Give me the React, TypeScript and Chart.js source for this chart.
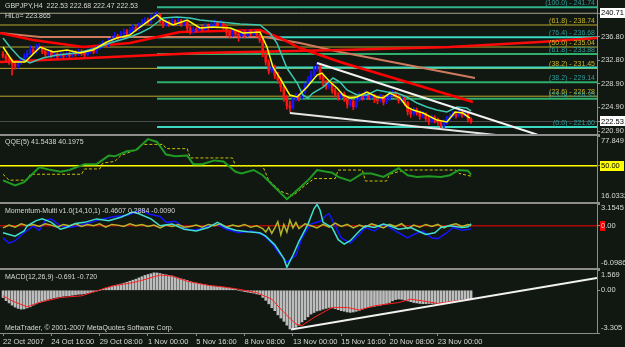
import React, { useEffect, useRef } from 'react';
import { Chart, registerables } from 'chart.js';

Chart.register(...registerables);

const FONT = '"Liberation Sans", Arial, sans-serif';
const BG = '#111811';
const AXIS = '#8c8c8c';
const TXT = '#d8d8d8';
const X_MIN = -1;
const X_MAX = 196.7;

// ---------------- data ----------------
const DATE_LABELS = ['22 Oct 2007', '24 Oct 16:00', '29 Oct 08:00', '1 Nov 00:00', '5 Nov 16:00', '8 Nov 08:00', '13 Nov 00:00', '15 Nov 16:00', '20 Nov 08:00', '23 Nov 00:00'];
const DATE_TICK_BARS = [0, 16, 32, 48, 64, 80, 96, 112, 128, 144];

const OPEN0 = 233.9;
const CLOSES = [
  233.5, 233.0, 232.8, 232.2, 231.8, 232.4, 232.9, 233.4, 234.0, 234.6,
  234.2, 234.8, 235.0, 234.3, 233.8, 234.2, 233.6, 233.9, 233.4, 233.8,
  233.5, 233.9, 233.6, 234.1, 233.8, 234.3, 234.0, 233.7, 234.2, 234.5,
  234.2, 234.8, 235.2, 235.6, 235.3, 236.0, 236.4, 236.9, 236.5, 237.2,
  237.6, 237.3, 237.8, 238.3, 238.0, 238.6, 239.1, 239.5, 239.2, 240.0,
  240.3, 240.5, 239.3, 238.7, 239.2, 238.9, 239.3, 239.0, 239.5, 238.8,
  239.2, 238.2, 237.6, 238.0, 237.9, 238.3, 238.0, 238.6, 238.3, 238.8,
  239.1, 238.6, 239.0, 238.4, 237.5, 237.0, 237.6, 237.2, 236.9, 237.4,
  237.0, 237.6, 237.2, 237.5, 237.1, 236.2, 233.8, 232.5, 231.0, 231.8,
  230.2, 229.5, 228.3, 226.5, 225.2, 224.8, 226.3, 226.8, 226.5, 227.5,
  228.6, 229.6, 230.4, 231.3, 231.8, 230.0, 229.0, 228.4, 228.8, 227.7,
  227.0, 226.6, 227.2, 226.3, 225.4, 225.9, 225.0, 226.2, 226.9, 226.5,
  227.2, 226.6, 226.9, 226.2, 226.0, 226.7, 225.8, 226.3, 227.0, 227.3,
  226.7, 226.0, 226.4, 225.7, 224.2, 223.8, 224.5, 224.0, 223.4, 223.8,
  223.0, 222.5, 223.2, 222.8, 222.4, 221.8, 222.3, 223.0, 223.4, 223.8,
  223.5, 224.0, 223.6, 223.9, 222.9, 222.53,
];
const HIGHS = [
  234.3, 233.8, 233.4, 233.0, 232.6, 232.7, 233.3, 233.9, 234.5, 235.3,
  235.0, 235.5, 235.6, 235.2, 234.6, 234.6, 234.5, 234.3, 234.1, 234.2,
  234.0, 234.3, 234.2, 234.5, 234.4, 234.7, 234.6, 234.3, 234.6, 234.9,
  234.8, 235.2, 235.7, 236.1, 235.9, 236.5, 236.9, 237.5, 237.2, 237.7,
  238.1, 238.0, 238.3, 238.8, 238.7, 239.1, 239.7, 240.0, 239.9, 240.4,
  240.7, 241.0, 240.6, 239.6, 239.7, 239.5, 239.8, 239.6, 240.0, 239.7,
  239.6, 239.4, 238.5, 238.4, 238.3, 238.7, 238.6, 239.0, 238.9, 239.3,
  239.6, 239.4, 239.5, 239.2, 238.6, 237.9, 238.0, 237.9, 237.5, 237.8,
  237.7, 238.0, 237.9, 237.9, 237.8, 237.3, 236.4, 234.3, 232.9, 232.4,
  232.0, 230.8, 229.9, 228.6, 226.9, 225.9, 226.6, 227.3, 227.1, 227.9,
  229.0, 230.1, 231.0, 231.8, 232.4, 232.0, 230.4, 229.4, 229.3, 229.1,
  228.1, 227.4, 227.6, 227.5, 226.6, 226.3, 226.2, 226.6, 227.4, 227.2,
  227.7, 227.5, 227.4, 227.1, 226.5, 227.1, 226.9, 226.8, 227.5, 227.8,
  227.6, 227.0, 226.8, 226.6, 225.9, 224.7, 224.9, 224.8, 224.3, 224.2,
  224.0, 223.3, 223.6, 223.5, 223.1, 222.7, 222.8, 223.4, 223.8, 224.2,
  224.1, 224.4, 224.3, 224.3, 224.1, 223.2,
];
const LOWS = [
  233.2, 232.6, 232.1, 230.3, 231.3, 231.5, 232.1, 232.7, 233.2, 233.8,
  233.9, 234.0, 234.5, 233.9, 233.3, 233.5, 233.2, 233.3, 233.0, 233.2,
  233.1, 233.3, 233.2, 233.4, 233.5, 233.6, 233.6, 233.3, 233.5, 234.0,
  233.9, 234.0, 234.6, 235.0, 235.0, 235.1, 235.8, 236.2, 236.1, 236.3,
  237.0, 236.9, 237.1, 237.6, 237.7, 237.8, 238.4, 238.9, 238.8, 239.0,
  239.7, 240.0, 239.0, 238.3, 238.5, 238.5, 238.7, 238.6, 238.8, 238.5,
  238.6, 237.5, 237.2, 237.3, 237.5, 237.7, 237.7, 237.8, 238.0, 238.1,
  238.6, 238.2, 238.4, 238.0, 236.9, 236.5, 236.8, 236.8, 236.0, 236.7,
  236.6, 236.8, 236.9, 237.0, 236.8, 235.8, 233.4, 232.0, 230.5, 230.7,
  229.7, 228.9, 227.6, 225.9, 224.6, 224.1, 224.6, 226.0, 226.0, 226.3,
  227.2, 228.3, 229.3, 230.1, 231.0, 229.6, 228.5, 227.9, 228.0, 227.3,
  226.6, 226.1, 226.3, 225.9, 224.8, 225.0, 224.5, 224.8, 225.9, 226.1,
  226.2, 226.2, 226.3, 225.7, 225.5, 225.8, 225.3, 225.5, 226.0, 226.8,
  226.3, 225.6, 225.7, 225.2, 223.6, 223.2, 223.5, 223.6, 222.9, 223.1,
  222.6, 222.0, 222.3, 222.3, 221.9, 221.3, 221.5, 222.1, 222.7, 223.2,
  223.1, 223.3, 223.2, 223.4, 222.4, 222.2,
];

// main-pane indicator lines: [bar index, price]
const YELLOW_MA: [number, number][] = [
  [0, 235.04], [3.3, 232.52], [7.3, 232.52], [12.3, 235.04], [16.6, 234.2], [21.2, 234.54], [25.5, 234.03],
  [29.8, 234.54], [34.4, 235.88], [37.7, 236.56], [42, 237.06], [45.4, 238.4], [47.7, 239.24], [51, 240.42],
  [53, 239.58], [56.3, 238.74], [61, 239.58], [65.2, 238.24], [69.5, 238.4], [75.2, 238.24], [79.5, 237.4],
  [85.1, 237.56], [87.4, 235.04], [89.4, 231.68], [91.7, 229.83], [95, 226.98], [97.4, 226.64], [100.7, 228.32],
  [104, 230.34], [105.6, 230.67], [108.3, 229.16], [110.6, 228.15], [112.6, 226.98], [114.9, 226.47],
  [117.2, 226.64], [120.5, 227.48], [123.8, 226.64], [125.8, 226.47], [128.1, 227.31], [131.5, 226.47],
  [133.8, 224.96], [135.8, 224.45], [139.1, 223.95], [143.7, 222.77], [147, 222.44], [149.7, 224.12],
  [152.3, 223.95], [154.6, 223.11],
];
const TEAL_MA: [number, number][] = [
  [0, 236.56], [2.3, 235.04], [5.6, 233.2], [8.9, 232.35], [13.2, 233.2], [17.9, 233.7], [24.5, 234.03],
  [31.1, 234.87], [35.4, 235.71], [41.1, 236.56], [45.4, 237.4], [48.7, 238.24], [53, 239.92], [57.6, 240.08],
  [61.9, 239.92], [65.2, 239.58], [71.9, 239.24], [78.5, 238.91], [85.1, 238.74], [88.4, 237.4], [90.7, 235.71],
  [94, 231.51], [97.4, 228.99], [99.3, 226.98], [101, 226.47], [102.6, 227.31], [106, 228.32], [109.3, 229.83],
  [111.6, 229.16], [113.9, 227.82], [117.2, 226.98], [120.5, 226.98], [123.8, 227.82], [127.2, 227.48],
  [130.5, 227.31], [133.8, 226.64], [137.1, 225.63], [140.4, 224.96], [143.7, 224.45], [147, 224.12],
  [150.3, 224.96], [153.6, 224.79], [155, 224.29],
];
const SALMON_LINE: [number, number][] = [[-1, 237.4], [12.3, 236.72], [86.8, 236.72], [98.3, 235.71], [111.6, 234.2], [156.3, 229.83]];
const RED_FAST: [number, number][] = [
  [-1, 237.4], [10, 236.22], [26.5, 235.04], [42, 235.71], [58.6, 237.56], [85.1, 237.9], [91.7, 236.56],
  [98.3, 234.87], [111.6, 232.52], [131.5, 229.5], [155.6, 225.8],
];
const RED_SLOW: [number, number][] = [[-1, 232.52], [65.2, 234.03], [111.6, 234.54], [148, 235.04], [177.8, 235.88], [196.7, 236.56]];
const WEDGE_UPPER: [number, number][] = [[104, 232.35], [177, 220.3]];
const WEDGE_LOWER: [number, number][] = [[95, 223.95], [175, 219.63]];

const HILO_LEVEL = 240.71;
const LAST_PRICE = 222.53;
const MAIN_TICKS = [236.8, 232.8, 228.9, 224.9, 220.9];
const FIB_YELLOW_LEVELS = [238.74, 235.04, 231.45, 226.78];
const FIB_YELLOW_LABELS = ['(61.8) - 238.74', '(50.0) - 235.04', '(38.2) - 231.45', '(23.6) - 226.78'];
const FIB_TEAL_LEVELS = [241.74, 236.68, 233.88, 231.62, 229.14, 226.35, 221.6];
const FIB_TEAL_LABELS = ['(100.0) - 241.74', '(76.4) - 236.68', '(61.8) - 233.88', '', '(38.2) - 229.14', '(23.6) - 226.35', '(0.0) - 221.60'];
const FIB_TEAL_START = 51;

// QQE
const QQE_RSI: [number, number][] = [
  [0, 36.3], [4, 31.5], [7, 34.7], [12, 48.6], [15, 46.6], [19, 44.3], [22, 46], [27, 51.5], [31, 51.5], [35, 59.5],
  [37, 58.8], [41, 63.6], [44, 64.6], [48, 74.9], [51, 72.3], [54, 60.5], [57, 58.8], [61, 59.5], [63, 51.5],
  [66, 51.5], [70, 55], [73, 54], [77, 44.3], [79, 42.8], [83, 46], [86, 41.1], [90, 29.8], [94, 18.6], [96, 23.5],
  [101, 36.3], [104, 46], [109, 43.4], [111, 39.5], [115, 35.7], [119, 42.8], [122, 42.8], [126, 39.5], [131, 47.6],
  [134, 41.1], [137, 39.5], [141, 40.2], [145, 39.5], [148, 41.1], [151, 46], [154, 45.3], [155, 41.54],
];
const QQE_TRAIL: [number, number][] = [
  [0, 42], [2, 36.5], [8, 36.5], [9, 42], [26, 42], [27, 47], [32, 47], [33, 52.5], [37, 54], [39, 59.5], [45, 66],
  [46, 70], [53, 70], [54, 66], [61, 66], [62, 57.3], [76, 57.3], [77, 49.8], [86, 49.8], [88, 36.3], [92, 26],
  [96, 21.8], [100, 31.5], [103, 38], [110, 38], [111, 46], [119, 46], [120, 35.7], [127, 35.7], [128, 42],
  [133, 46], [150, 46], [151, 42.8], [155, 40.2],
];
const QQE_MAX = 77.849;
const QQE_MIN = 16.0332;
const QQE_LEVEL = 50;

// Momentum-Multi
const MOM_BLUE: [number, number][] = [
  [0, -1.75], [2, -2.5], [4, -2.15], [7, -1.0], [10, 0], [12, -0.65], [14, 0.75], [16, 1.0], [19, 0], [22, -0.25],
  [25, 0], [29, 0.5], [33, 1.0], [37, 1.35], [41, 1.5], [44, 2.0], [46, 2.35], [48, 1.75], [52, 1.35], [54, 0.5],
  [57, 0.65], [60, -0.25], [62, -0.65], [65, -0.5], [68, 0], [71, 0.15], [74, -0.5], [78, -1.0], [82, -0.75],
  [86, -1.25], [89, -2.5], [91, -3.75], [94, -5.25], [97, -4.25], [99, -1.75], [102, 0.25], [105, 0.65],
  [107, 1.5], [108, 1.75], [110, 0], [112, -1.75], [115, -2.5], [118, -1.25], [120, -0.25], [123, -0.75],
  [126, 0.25], [128, -0.25], [131, -1.0], [134, -1.75], [136, -1.25], [139, -0.75], [142, -1.75], [144, -1.85],
  [147, -1.0], [149, -0.25], [152, -0.65], [155, -0.46],
];
const MOM_CYAN: [number, number][] = [
  [0, -1.0], [2, -1.25], [4, -1.5], [7, -0.75], [8, 0], [11, 0.75], [13, 1.0], [16, 0.5], [19, -0.5], [21, -0.25],
  [24, 0.35], [27, 0.5], [31, 1.0], [35, 0.75], [39, 1.25], [43, 2.0], [45, 1.75], [49, 1.0], [52, 0], [56, 0.25],
  [60, -0.5], [64, -0.75], [68, -0.25], [71, 0.5], [74, -0.25], [77, -0.65], [81, -0.85], [85, -1.0], [87, -1.5],
  [90, -2.75], [93, -4.75], [94, -6.0], [96, -4.25], [98, -2.25], [101, 0.25], [103, 2.5], [104, 3.1], [105, 2.25],
  [106, 0.5], [109, -0.25], [111, -2.0], [113, -2.65], [115, -2.15], [118, -0.75], [120, 0], [123, -0.25],
  [126, 0.25], [128, 0], [131, -0.5], [135, -0.25], [138, -0.85], [140, -1.25], [143, -1.0], [145, -0.25],
  [148, 0], [152, -0.25], [154, -0.15], [155, 0.29],
];
const MOM_OLIVE: [number, number][] = [
  [0, -0.3], [2, 0.1], [4, -0.2], [6, 0.3], [8, 0.0], [10, 0.2], [12, -0.1], [14, 0.3], [16, 0.1], [18, -0.2],
  [20, 0.2], [22, 0.0], [24, 0.3], [26, -0.1], [28, 0.2], [30, 0.0], [32, 0.3], [34, -0.2], [36, 0.2], [38, 0.1],
  [40, -0.1], [42, 0.3], [44, 0.0], [46, 0.2], [48, -0.1], [50, 0.1], [52, -0.3], [54, 0.1], [56, -0.1], [58, 0.2],
  [60, -0.2], [62, -0.1], [64, 0.1], [66, -0.2], [68, 0.2], [70, 0.0], [72, 0.3], [74, -0.2], [76, 0.1], [78, -0.1],
  [80, 0.2], [82, -0.2], [84, 0.0], [86, -0.4], [87, -0.9], [88, -0.2], [89, -1.1], [90, -0.3], [91, 0.6],
  [92, -1.3], [93, 0.2], [94, -0.9], [95, 0.8], [96, -0.3], [97, 0.5], [98, -0.4], [100, 0.3], [102, 0.0],
  [104, -0.3], [106, 0.2], [108, -0.2], [110, 0.4], [112, -0.1], [114, 0.2], [116, -0.3], [118, 0.1], [120, -0.2],
  [122, 0.3], [124, 0.0], [126, -0.3], [128, 0.2], [130, -0.1], [132, 0.3], [134, -0.4], [136, 0.1], [138, -0.2],
  [140, 0.2], [142, -0.1], [144, 0.2], [146, -0.3], [148, 0.1], [150, 0.3], [152, -0.1], [154, 0.2], [155, -0.01],
];
const MOM_MAX = 3.1545;
const MOM_MIN = -6.0986;

// MACD
const MACD_HIST = [
  -0.56, -0.8, -0.98, -1.15, -1.3, -1.4, -1.46, -1.44, -1.36, -1.28,
  -1.15, -1.05, -0.95, -0.86, -0.78, -0.7, -0.64, -0.58, -0.54, -0.5,
  -0.46, -0.43, -0.42, -0.38, -0.35, -0.31, -0.3, -0.26, -0.22, -0.18,
  -0.12, -0.06, 0.0, 0.08, 0.16, 0.22, 0.28, 0.36, 0.42, 0.48,
  0.55, 0.62, 0.7, 0.78, 0.86, 0.96, 1.05, 1.15, 1.22, 1.28,
  1.35, 1.34, 1.3, 1.24, 1.2, 1.15, 1.1, 1.02, 0.95, 0.88,
  0.82, 0.76, 0.68, 0.62, 0.56, 0.52, 0.46, 0.42, 0.38, 0.34,
  0.3, 0.28, 0.24, 0.22, 0.2, 0.16, 0.14, 0.08, 0.0, -0.05,
  -0.1, -0.14, -0.18, -0.22, -0.28, -0.34, -0.55, -0.78, -1.05, -1.35,
  -1.58, -1.9, -2.15, -2.4, -2.7, -2.99, -2.95, -2.86, -2.7, -2.45,
  -2.28, -2.05, -1.84, -1.72, -1.6, -1.55, -1.46, -1.4, -1.33, -1.36,
  -1.42, -1.5, -1.58, -1.62, -1.68, -1.71, -1.68, -1.62, -1.56, -1.45,
  -1.35, -1.32, -1.28, -1.24, -1.2, -1.15, -1.08, -1.02, -0.95, -0.82,
  -0.72, -0.68, -0.7, -0.76, -0.82, -0.88, -0.95, -0.98, -1.02, -1.04,
  -1.03, -1.02, -1.02, -1.01, -0.98, -0.95, -0.93, -0.9, -0.86, -0.82,
  -0.78, -0.74, -0.7, -0.67, -0.66, -0.69,
];
const MACD_SIGNAL: [number, number][] = [
  [0, -0.43], [3, -0.82], [8, -1.28], [12, -0.95], [19, -0.56], [26, -0.43], [31, -0.05], [36, 0.33], [43, 0.59],
  [47, 0.84], [52, 1.18], [56, 1.1], [61, 0.7], [68, 0.38], [73, 0.26], [78, 0.08], [84, -0.18], [89, -0.69],
  [93, -1.71], [97, -2.61], [99, -2.73], [103, -2.1], [109, -1.33], [114, -1.33], [118, -1.53], [123, -1.2],
  [131, -0.95], [135, -0.69], [139, -0.82], [144, -1.02], [150, -0.82], [155, -0.72],
];
const MACD_TREND: [number, number][] = [[95.4, -3.03], [196.7, 0.95]];
const MACD_MAX = 1.569;
const MACD_MIN = -3.305;

// ---------------- helpers ----------------
type Pt = [number, number];

const lineDs = (pts: Pt[], color: string, width: number, order: number, extra: any = {}) => ({
  type: 'line',
  data: pts.map(([x, y]) => ({ x, y })),
  borderColor: color,
  borderWidth: width,
  pointRadius: 0,
  pointHoverRadius: 0,
  tension: 0,
  fill: false,
  order,
  ...extra,
});

const xScale = (show: boolean) => ({
  type: 'linear',
  min: X_MIN,
  max: X_MAX,
  offset: false,
  display: show,
  afterFit: (s: any) => {
    s.height = show ? 14 : 0;
  },
  afterBuildTicks: (s: any) => {
    s.ticks = DATE_TICK_BARS.map((v) => ({ value: v }));
  },
  ticks: {
    autoSkip: false,
    maxRotation: 0,
    minRotation: 0,
    align: 'start',
    padding: 1,
    color: TXT,
    font: { family: FONT, size: 7.5 },
    callback: (v: number) => {
      const k = DATE_TICK_BARS.indexOf(v);
      return k >= 0 ? DATE_LABELS[k] : '';
    },
  },
  grid: { drawOnChartArea: false, color: AXIS, tickLength: 3, offset: false },
  border: { color: AXIS },
});

const yScale = (min: number, max: number, ticks: number[]) => ({
  type: 'linear',
  position: 'right',
  min,
  max,
  afterFit: (s: any) => {
    s.width = 28;
  },
  afterBuildTicks: (s: any) => {
    s.ticks = ticks.map((v) => ({ value: v }));
  },
  ticks: { display: false },
  grid: { drawOnChartArea: false, color: AXIS, tickLength: 3 },
  border: { color: AXIS },
});

const baseOptions = (yMin: number, yMax: number, yTicks: number[], showX: boolean) => ({
  responsive: false,
  animation: false,
  devicePixelRatio: 1,
  events: [],
  layout: { padding: 0 },
  plugins: { legend: { display: false }, tooltip: { enabled: false }, title: { display: false } },
  scales: { x: xScale(showX), y: yScale(yMin, yMax, yTicks) },
});

type Lbl = { v: number; t: string; dy?: number; box?: string; boxW?: number; color?: string };

const drawAxisLabels = (chart: any, labels: Lbl[]) => {
  const ctx = chart.ctx;
  const ys = chart.scales.y;
  const x = chart.chartArea.right + 4;
  ctx.font = `7.5px ${FONT}`;
  ctx.textBaseline = 'middle';
  ctx.textAlign = 'left';
  labels.forEach((l) => {
    const y = ys.getPixelForValue(l.v) + (l.dy || 0);
    if (l.box) {
      const w = l.boxW || ctx.measureText(l.t).width + 3;
      ctx.fillStyle = l.box;
      ctx.fillRect(x - 1, Math.round(y) - 5, w, 10);
    }
    ctx.fillStyle = l.color || TXT;
    ctx.fillText(l.t, x, y);
  });
};

const drawTexts = (chart: any, lines: { t: string; dy: number; fromBottom?: boolean }[]) => {
  const ctx = chart.ctx;
  const a = chart.chartArea;
  ctx.font = `7px ${FONT}`;
  ctx.textBaseline = 'middle';
  ctx.textAlign = 'left';
  ctx.fillStyle = TXT;
  lines.forEach((l) => {
    ctx.fillText(l.t, a.left + 5, l.fromBottom ? a.bottom - l.dy : a.top + l.dy);
  });
};

const overlay = (id: string, fn: (chart: any) => void) => ({
  id,
  afterDraw(chart: any) {
    chart.ctx.save();
    fn(chart);
    chart.ctx.restore();
  },
});

// ---------------- pane configs ----------------
const MAIN_MIN = 220.43;
const MAIN_MAX = 242.94;
const TEAL_STYLE = ['#2fb58c', '#3ad9c4', '#2fae6c', '#3ad9c4', '#2fae6c', '#2fae6c', '#3ad9c4'];
const YELLOW_FIB = '#b9a82c';

const mainConfig = () => {
  const opens = CLOSES.map((c, i) => (i === 0 ? OPEN0 : CLOSES[i - 1]));
  const bodyColors = CLOSES.map((c, i) => (c >= opens[i] ? '#1414ff' : '#ff1414'));
  const datasets: any[] = [];
  datasets.push(lineDs(WEDGE_UPPER, '#f2f2f2', 2, 1));
  datasets.push(lineDs(WEDGE_LOWER, '#e6e6e6', 2, 1));
  datasets.push(lineDs(YELLOW_MA, '#ffff00', 1.5, 2));
  datasets.push(lineDs(TEAL_MA, '#3cc8b0', 1.5, 3));
  datasets.push({
    type: 'bar',
    data: CLOSES.map((c, i) => ({ x: i, y: [opens[i], c] })),
    backgroundColor: bodyColors,
    borderWidth: 0,
    barThickness: 2,
    grouped: false,
    order: 4,
  });
  datasets.push({
    type: 'bar',
    data: CLOSES.map((_, i) => ({ x: i, y: [LOWS[i], HIGHS[i]] })),
    backgroundColor: bodyColors,
    borderWidth: 0,
    barThickness: 1,
    grouped: false,
    order: 5,
  });
  datasets.push(lineDs(RED_FAST, '#ff0000', 2.5, 6));
  datasets.push(lineDs(RED_SLOW, '#ff0a0a', 2.5, 6));
  datasets.push(lineDs(SALMON_LINE, '#cf7a5e', 2, 7));
  FIB_TEAL_LEVELS.forEach((lv, k) =>
    datasets.push(lineDs([[FIB_TEAL_START, lv], [X_MAX, lv]], TEAL_STYLE[k], 2, 8)),
  );
  FIB_YELLOW_LEVELS.forEach((lv) => datasets.push(lineDs([[X_MIN, lv], [X_MAX, lv]], YELLOW_FIB, 1, 9)));
  datasets.push(lineDs([[X_MIN, HILO_LEVEL], [X_MAX, HILO_LEVEL]], '#a8a48c', 1, 9));
  datasets.push(lineDs([[X_MIN, LAST_PRICE], [X_MAX, LAST_PRICE]], '#4c4c4c', 1, 10));

  return {
    type: 'bar',
    data: { datasets },
    options: baseOptions(MAIN_MIN, MAIN_MAX, [...MAIN_TICKS, HILO_LEVEL, LAST_PRICE], false),
    plugins: [
      overlay('mainText', (chart) => {
        const ctx = chart.ctx;
        const ys = chart.scales.y;
        const right = chart.chartArea.right - 2;
        ctx.font = `7px ${FONT}`;
        ctx.textAlign = 'right';
        ctx.textBaseline = 'bottom';
        FIB_YELLOW_LEVELS.forEach((lv, k) => {
          ctx.fillStyle = '#c9b52a';
          ctx.fillText(FIB_YELLOW_LABELS[k], right, ys.getPixelForValue(lv) - 0.5);
        });
        FIB_TEAL_LEVELS.forEach((lv, k) => {
          if (!FIB_TEAL_LABELS[k]) return;
          ctx.fillStyle = '#2f9c9a';
          ctx.fillText(FIB_TEAL_LABELS[k], right, ys.getPixelForValue(lv) - 0.5);
        });
        drawTexts(chart, [
          { t: 'GBPJPY,H4  222.53 222.68 222.47 222.53', dy: 6 },
          { t: 'HiLo= 223.865', dy: 16 },
        ]);
        drawAxisLabels(chart, [
          ...MAIN_TICKS.map((v) => ({ v, t: v.toFixed(2) })),
          { v: HILO_LEVEL, t: HILO_LEVEL.toFixed(2), box: '#ffffff', boxW: 27, color: '#000000' },
          { v: LAST_PRICE, t: LAST_PRICE.toFixed(2), box: '#ffffff', boxW: 27, color: '#000000' },
        ]);
      }),
    ],
  };
};

const qqeConfig = () => ({
  type: 'line',
  data: {
    datasets: [
      lineDs(QQE_RSI, '#1f9a22', 2, 1),
      lineDs(QQE_TRAIL, '#c8c400', 1, 2, { borderDash: [3, 2] }),
      lineDs([[X_MIN, QQE_LEVEL], [X_MAX, QQE_LEVEL]], '#ffff00', 1.5, 3),
    ],
  },
  options: baseOptions(QQE_MIN, QQE_MAX, [QQE_MAX, QQE_LEVEL, QQE_MIN], false),
  plugins: [
    overlay('qqeText', (chart) => {
      drawTexts(chart, [{ t: 'QQE(5) 41.5438 40.1975', dy: 6 }]);
      drawAxisLabels(chart, [
        { v: QQE_MAX, t: '77.849', dy: 5 },
        { v: QQE_LEVEL, t: '50.00', box: '#ffff00', boxW: 24, color: '#000000' },
        { v: QQE_MIN, t: '16.0332', dy: -6 },
      ]);
    }),
  ],
});

const momConfig = () => ({
  type: 'line',
  data: {
    datasets: [
      lineDs(MOM_CYAN, '#40e0d0', 1.5, 1),
      lineDs(MOM_OLIVE, '#b4b42a', 1.5, 2),
      lineDs(MOM_BLUE, '#1414ff', 1.5, 3),
      lineDs([[X_MIN, 0], [X_MAX, 0]], '#ff0000', 1, 4),
    ],
  },
  options: baseOptions(MOM_MIN, MOM_MAX, [MOM_MAX, 0, MOM_MIN], false),
  plugins: [
    overlay('momText', (chart) => {
      drawTexts(chart, [{ t: 'Momentum-Multi v1.0(14,10,1) -0.4607 0.2884 -0.0090', dy: 7 }]);
      drawAxisLabels(chart, [
        { v: MOM_MAX, t: '3.1545', dy: 4 },
        { v: 0, t: '0.00', box: '#ff0000', boxW: 5 },
        { v: MOM_MIN, t: '-6.0986', dy: -5 },
      ]);
    }),
  ],
});

const macdConfig = () => ({
  type: 'bar',
  data: {
    datasets: [
      lineDs(MACD_TREND, '#f2f2f2', 2, 1),
      lineDs(MACD_SIGNAL, '#ff2020', 1, 2),
      {
        type: 'bar',
        data: MACD_HIST.map((v, i) => ({ x: i, y: v })),
        backgroundColor: '#bdbdbd',
        borderWidth: 0,
        barThickness: 2,
        grouped: false,
        order: 3,
      },
    ],
  },
  options: baseOptions(MACD_MIN, MACD_MAX, [MACD_MAX, 0, MACD_MIN], true),
  plugins: [
    overlay('macdText', (chart) => {
      drawTexts(chart, [
        { t: 'MACD(12,26,9) -0.691 -0.720', dy: 7 },
        { t: 'MetaTrader, © 2001-2007 MetaQuotes Software Corp.', dy: 5, fromBottom: true },
      ]);
      drawAxisLabels(chart, [
        { v: MACD_MAX, t: '1.569', dy: 5 },
        { v: 0, t: '0.00' },
        { v: MACD_MIN, t: '-3.305', dy: -5 },
      ]);
    }),
  ],
});

// ---------------- components ----------------
function Pane({ top, height, build }: { top: number; height: number; build: () => any }) {
  const ref = useRef<HTMLCanvasElement>(null);
  useEffect(() => {
    if (!ref.current) return;
    const chart = new Chart(ref.current, build());
    return () => chart.destroy();
  }, []);
  return (
    <canvas
      ref={ref}
      width={625}
      height={height}
      style={{ position: 'absolute', left: 0, top, width: 625, height, display: 'block' }}
    />
  );
}

const sepStyle = (top: number): React.CSSProperties => ({
  position: 'absolute',
  left: 0,
  top,
  width: 600,
  height: 2,
  background: '#8e8e8e',
});

export default function App() {
  return (
    <div
      style={{
        position: 'fixed',
        left: 0,
        top: 0,
        width: 625,
        height: 347,
        background: BG,
        overflow: 'hidden',
      }}
    >
      <Pane top={0} height={134} build={mainConfig} />
      <div style={sepStyle(134)} />
      <Pane top={136} height={66} build={qqeConfig} />
      <div style={sepStyle(202)} />
      <Pane top={204} height={64} build={momConfig} />
      <div style={sepStyle(268)} />
      <Pane top={270} height={77} build={macdConfig} />
    </div>
  );
}
